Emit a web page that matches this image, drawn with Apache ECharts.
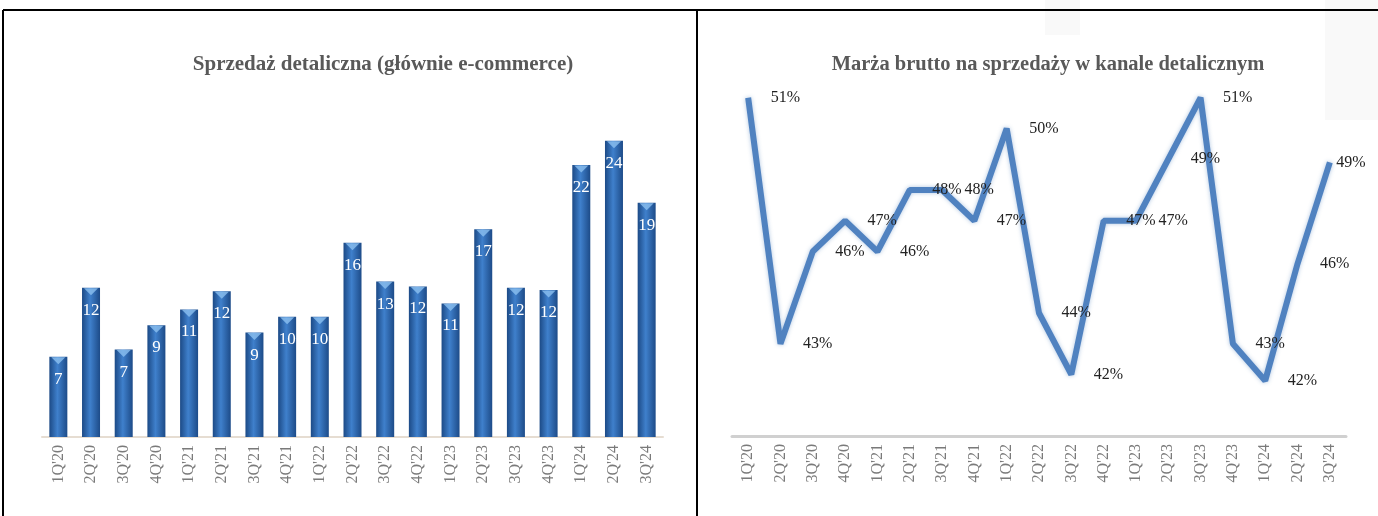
<!DOCTYPE html>
<html>
<head>
<meta charset="utf-8">
<script src="https://cdn.jsdelivr.net/npm/echarts@6/dist/echarts.min.js"></script>
<style>
  html, body { margin: 0; padding: 0; background: #fff; }
  #chart { width: 1378px; height: 516px; }
</style>
</head>
<body>
<div id="chart"></div>
<script>
// kwartały
const quarters = ["1Q'20", "2Q'20", "3Q'20", "4Q'20", "1Q'21", "2Q'21", "3Q'21", "4Q'21", "1Q'22", "2Q'22",
  "3Q'22", "4Q'22", "1Q'23", "2Q'23", "3Q'23", "4Q'23", "1Q'24", "2Q'24", "3Q'24"];
// sprzedaż detaliczna
const retailSales = [6.6, 12.3, 7.2, 9.2, 10.5, 12.0, 8.6, 9.9, 9.9, 16.0, 12.8, 12.4, 11.0, 17.1, 12.3, 12.1, 22.4, 24.4, 19.3];
// marża brutto, %
const grossMargin = [51, 43, 46, 47, 46, 48, 48, 47, 50, 44, 42, 47, 47, 49, 51, 43, 41.8, 45.6, 48.9];

const serif = 'Liberation Serif';

let myChart = echarts.init(document.getElementById('chart'));

const barColor = new echarts.graphic.LinearGradient(0, 0, 1, 0, [
  { offset: 0, color: '#1c4a86' },
  { offset: 0.45, color: '#3f80cc' },
  { offset: 1, color: '#1d4b88' }
]);

const axisLabel = {
  rotate: 90,
  fontFamily: serif,
  fontSize: 16,
  color: '#7a7a7a',
  margin: 8
};

var option = {
  animation: false,
  backgroundColor: '#fff',
  title: [
    {
      text: 'Sprzedaż detaliczna (głównie e-commerce)',
      left: 378, top: 49, textAlign: 'center',
      textStyle: { fontFamily: serif, fontSize: 21, fontWeight: 'bold', color: '#595959' }
    },
    {
      text: 'Marża brutto na sprzedaży w kanale detalicznym',
      left: 1043, top: 49, textAlign: 'center',
      textStyle: { fontFamily: serif, fontSize: 20.5, fontWeight: 'bold', color: '#595959' }
    }
  ],
  graphic: [
    { type: 'rect', z: -10, shape: { x: 1045, y: 0, width: 35, height: 35 }, style: { fill: '#f9f9f9' } },
    { type: 'rect', z: -10, shape: { x: 1325, y: 0, width: 53, height: 120 }, style: { fill: '#f9f9f9' } },
    { type: 'line', shape: { x1: 3, y1: 10, x2: 1378, y2: 10 }, style: { stroke: '#000', lineWidth: 2 } },
    { type: 'line', shape: { x1: 3, y1: 10, x2: 3, y2: 516 }, style: { stroke: '#000', lineWidth: 2 } },
    { type: 'line', shape: { x1: 697, y1: 10, x2: 697, y2: 516 }, style: { stroke: '#000', lineWidth: 2 } }
  ],
  grid: [
    { left: 42, top: 97, width: 621, height: 340 },
    { left: 732, top: 67, width: 614, height: 369 }
  ],
  xAxis: [
    {
      gridIndex: 0, type: 'category', data: quarters,
      axisLine: { lineStyle: { color: '#e6ddd2', width: 2 } },
      axisTick: { show: false },
      axisLabel: axisLabel
    },
    {
      gridIndex: 1, type: 'category', data: quarters,
      axisLine: { lineStyle: { color: '#d0d0d0', width: 3 } },
      axisTick: { show: false },
      axisLabel: axisLabel
    }
  ],
  yAxis: [
    { gridIndex: 0, type: 'value', min: 0, max: 28, show: false, splitLine: { show: false } },
    { gridIndex: 1, type: 'value', min: 40, max: 52, show: false, splitLine: { show: false } }
  ],
  series: [
    {
      name: 'Sprzedaż',
      type: 'bar',
      xAxisIndex: 0, yAxisIndex: 0,
      data: retailSales,
      barWidth: 18,
      itemStyle: { color: barColor },
      label: {
        show: true,
        position: 'insideTop',
        distance: 14,
        fontFamily: serif,
        fontSize: 17,
        color: '#fff',
        formatter: p => Math.round(p.value)
      }
    },
    {
      // jasny trójkąt na szczycie słupka
      type: 'scatter',
      xAxisIndex: 0, yAxisIndex: 0,
      data: retailSales,
      symbol: 'triangle',
      symbolRotate: 180,
      symbolSize: [14, 7],
      symbolOffset: [0, 4],
      itemStyle: { color: '#8cc0f0' },
      silent: true,
      z: 3
    },
    {
      name: 'Marża',
      type: 'line',
      xAxisIndex: 1, yAxisIndex: 1,
      data: grossMargin.map((v, i) => i === grossMargin.length - 1
        ? { value: v, label: { distance: 6 } }
        : v),
      showSymbol: true,
      symbol: 'circle',
      symbolSize: 1,
      itemStyle: { color: 'rgba(0,0,0,0)' },
      lineStyle: {
        color: '#5082c0', width: 6,
        shadowColor: 'rgba(79,129,189,0.45)', shadowBlur: 4
      },
      label: {
        show: true,
        position: 'right',
        distance: 22,
        offset: [0, 3],
        fontFamily: serif,
        fontSize: 16,
        color: '#222',
        formatter: p => Math.round(p.value) + '%'
      },
      labelLayout: { hideOverlap: false }
    }
  ]
};

myChart.setOption(option);
window.addEventListener('resize', () => {
  myChart.resize();
});
</script>
</body>
</html>
